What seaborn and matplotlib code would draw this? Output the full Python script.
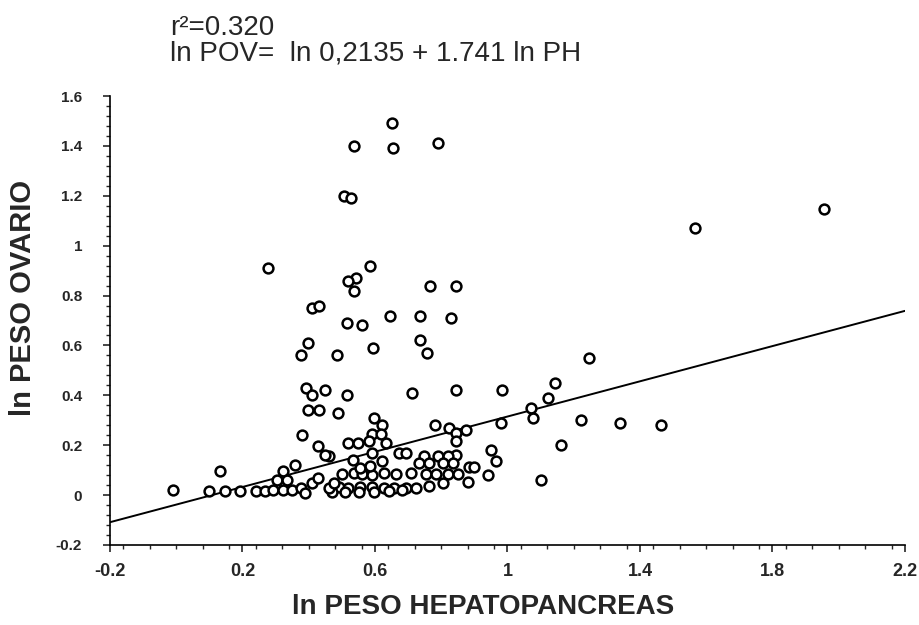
import numpy as np
import pandas as pd
import seaborn as sns
import matplotlib.pyplot as plt
from matplotlib.ticker import MultipleLocator

# dados (ln peso hepatopancreas, ln peso ovario)
ln_ph = [0.650, 0.536, 0.654, 0.791, 0.505, 0.527, 0.278, 0.584, 0.544, 0.520,
         0.538, 0.766, 0.845, 0.409, 0.430, 0.646, 0.736, 0.829, 0.515, 0.561,
         0.397, 0.595, 0.736, 0.757, 0.378, 0.485, 0.391, 0.450, 0.409, 0.515,
         0.397, 0.432, 0.487, 0.713, 0.845, 0.983, 0.596,
         1.956, 1.567, 1.246, 1.144, 1.123, 1.070, 1.078, 1.222, 1.341, 1.465,
         1.161, 1.101,
         0.782, 0.822, 0.875, 0.845, 0.845, 0.981, 0.622, 0.591, 0.617, 0.520,
         0.549, 0.581, 0.634, 0.591, 0.672, 0.693, 0.951, 0.966, 0.535, 0.460,
         0.845, 0.748, 0.789, 0.819, 0.622, 0.733, 0.764, 0.804, 0.837, 0.885,
         0.900, 0.500, 0.536, 0.561, 0.591, 0.627, 0.662, 0.708, 0.753, 0.784,
         0.819, 0.850, 0.940, 0.880, 0.804, 0.490, 0.520, 0.556, 0.591, 0.627,
         0.657, 0.693, 0.723, 0.764, 0.470, 0.510, 0.551, 0.596, 0.642, 0.682,
         0.381, 0.427, 0.450, 0.133, -0.009, 0.100, 0.146, 0.191, 0.242, 0.267,
         0.292, 0.323, 0.348, 0.323, 0.358, 0.303, 0.333, 0.378, 0.409, 0.429,
         0.460, 0.475, 0.389, 0.556, 0.586]
ln_pov = [1.49, 1.40, 1.39, 1.41, 1.20, 1.19, 0.91, 0.92, 0.87, 0.86,
          0.82, 0.84, 0.84, 0.75, 0.76, 0.72, 0.72, 0.71, 0.69, 0.68,
          0.61, 0.59, 0.62, 0.57, 0.56, 0.56, 0.43, 0.42, 0.40, 0.40,
          0.34, 0.34, 0.33, 0.41, 0.42, 0.42, 0.31,
          1.145, 1.07, 0.55, 0.45, 0.39, 0.35, 0.31, 0.30, 0.29, 0.28,
          0.20, 0.06,
          0.28, 0.27, 0.26, 0.25, 0.215, 0.29, 0.28, 0.245, 0.245, 0.21,
          0.21, 0.215, 0.21, 0.168, 0.168, 0.168, 0.18, 0.135, 0.14, 0.155,
          0.16, 0.155, 0.155, 0.155, 0.135, 0.127, 0.127, 0.127, 0.127, 0.114,
          0.114, 0.085, 0.09, 0.085, 0.08, 0.09, 0.085, 0.09, 0.085, 0.085,
          0.085, 0.085, 0.08, 0.054, 0.047, 0.034, 0.03, 0.034, 0.034, 0.03,
          0.03, 0.03, 0.03, 0.036, 0.014, 0.012, 0.014, 0.014, 0.016, 0.02,
          0.24, 0.195, 0.16, 0.098, 0.02, 0.018, 0.018, 0.018, 0.018, 0.018,
          0.02, 0.02, 0.02, 0.098, 0.12, 0.06, 0.06, 0.027, 0.047, 0.067,
          0.027, 0.047, 0.007, 0.107, 0.116]

# reta de regressao
reta_intercepto = -0.038
reta_inclinacao = 0.353

titulo_r2 = 'r²=0.320'
titulo_eq = 'ln POV=  ln 0,2135 + 1.741 ln PH'

df = pd.DataFrame({'ph': ln_ph, 'pov': ln_pov})

sns.set_style('ticks')
plt.rcParams['font.family'] = ['Liberation Sans', 'DejaVu Sans']

fig = plt.figure(figsize=(9.19, 6.25), dpi=100)
ax = fig.add_axes([0.1197, 0.128, 0.865, 0.7184])

xlim = (-0.2, 2.2)
reta = pd.DataFrame({'x': list(xlim)})
reta['y'] = reta_intercepto + reta_inclinacao * reta['x']
sns.lineplot(data=reta, x='x', y='y', color='black', linewidth=1.4, ax=ax, zorder=1)

sns.scatterplot(data=df, x='ph', y='pov', s=50, facecolor='white',
                edgecolor='black', linewidth=1.8, ax=ax, zorder=2)

ax.set_xlim(xlim)
ax.set_ylim(-0.2, 1.6)
ax.set_xticks([-0.2, 0.2, 0.6, 1, 1.4, 1.8, 2.2])
ax.set_xticklabels(['-0.2', '0.2', '0.6', '1', '1.4', '1.8', '2.2'])
ax.set_yticks(np.round(np.arange(-0.2, 1.61, 0.2), 1))
ax.set_yticklabels(['-0.2', '0', '0.2', '0.4', '0.6', '0.8', '1', '1.2', '1.4', '1.6'])
ax.xaxis.set_minor_locator(MultipleLocator(0.08))
ax.yaxis.set_minor_locator(MultipleLocator(0.04))
ax.tick_params(axis='both', which='major', length=5, width=1.2)
ax.tick_params(axis='both', which='minor', length=3, width=1)
ax.tick_params(axis='y', pad=15, labelsize=11)
ax.tick_params(axis='x', pad=8, labelsize=13)
for lab in ax.get_xticklabels() + ax.get_yticklabels():
    lab.set_fontweight('bold')

sns.despine(ax=ax)
for s in ['left', 'bottom']:
    ax.spines[s].set_linewidth(1.2)
    ax.spines[s].set_color('black')

ax.set_xlabel('ln PESO HEPATOPANCREAS', fontsize=20, fontweight='bold')
ax.set_ylabel('ln PESO OVARIO', fontsize=21, fontweight='bold')
ax.xaxis.set_label_coords(0.469, -0.11)
ax.yaxis.set_label_coords(-0.092, 0.551)

fig.text(0.185, 0.955, titulo_r2, fontsize=20, va='center', ha='left')
fig.text(0.185, 0.915, titulo_eq, fontsize=20, va='center', ha='left')

fig.savefig('out.png', dpi=100)
